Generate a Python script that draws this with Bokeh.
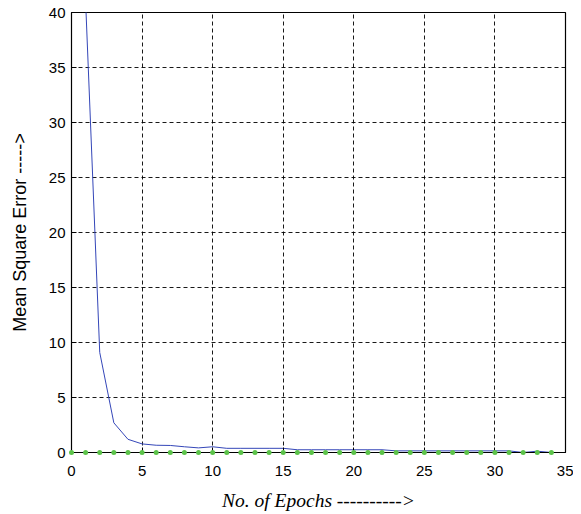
from bokeh.plotting import figure
from bokeh.models import Range1d, FixedTicker
from bokeh.embed import file_html
from bokeh.resources import INLINE

epochs = list(range(1, 35))
mse = [41.0, 9.1, 2.7, 1.2, 0.78, 0.66, 0.64, 0.52, 0.42, 0.52,
       0.38, 0.38, 0.38, 0.38, 0.38, 0.25, 0.25, 0.25, 0.25, 0.25,
       0.25, 0.25, 0.15, 0.15, 0.15, 0.15, 0.15, 0.15, 0.15, 0.15,
       0.15, 0.0, 0.12, 0.0]
goal_x = list(range(0, 35))
goal_y = [0.0] * 35

x_ticks = [0, 5, 10, 15, 20, 25, 30, 35]
y_ticks = [0, 5, 10, 15, 20, 25, 30, 35, 40]

p = figure(frame_width=494, frame_height=440, output_backend="svg", toolbar_location=None,
           x_range=Range1d(0, 35), y_range=Range1d(0, 40),
           min_border_left=71, min_border_top=12, min_border_right=8, min_border_bottom=54)
p.background_fill_color = "white"
p.border_fill_color = "white"
p.outline_line_color = "black"
p.outline_line_width = 1.2

p.line(epochs, mse, line_color="#3446b8", line_width=1)
p.scatter(goal_x, goal_y, size=5, color="#5cc34a", line_color=None, level="overlay")

for ax in p.xaxis:
    ax.ticker = FixedTicker(ticks=x_ticks)
for ax in p.yaxis:
    ax.ticker = FixedTicker(ticks=y_ticks)

for ax in list(p.xaxis) + list(p.yaxis):
    ax.major_tick_in = 5
    ax.major_tick_out = 0
    ax.minor_tick_line_color = None
    ax.axis_line_color = "black"
    ax.major_tick_line_color = "black"
    ax.major_label_text_font = "Liberation Sans"
    ax.major_label_text_font_size = "15px"
    ax.major_label_text_color = "black"

p.xaxis.axis_label = "No. of Epochs ---------->"
p.xaxis.axis_label_text_font = "Liberation Serif"
p.xaxis.axis_label_text_font_style = "italic"
p.xaxis.axis_label_text_font_size = "19.5px"
p.xaxis.axis_label_text_color = "black"
p.xaxis.axis_label_standoff = 11
p.xaxis.major_label_standoff = 13

p.yaxis.axis_label = "Mean Square Error ----->"
p.yaxis.axis_label_text_font = "Liberation Sans"
p.yaxis.axis_label_text_font_style = "normal"
p.yaxis.axis_label_text_font_size = "18px"
p.yaxis.axis_label_text_color = "black"
p.yaxis.axis_label_standoff = 16
p.yaxis.major_label_standoff = 6

p.grid.grid_line_color = "black"
p.grid.grid_line_dash = "4 3"
p.grid.grid_line_alpha = 0.9
p.xgrid.ticker = FixedTicker(ticks=x_ticks)
p.ygrid.ticker = FixedTicker(ticks=y_ticks)

open("out.html", "w").write(file_html(p, INLINE))
